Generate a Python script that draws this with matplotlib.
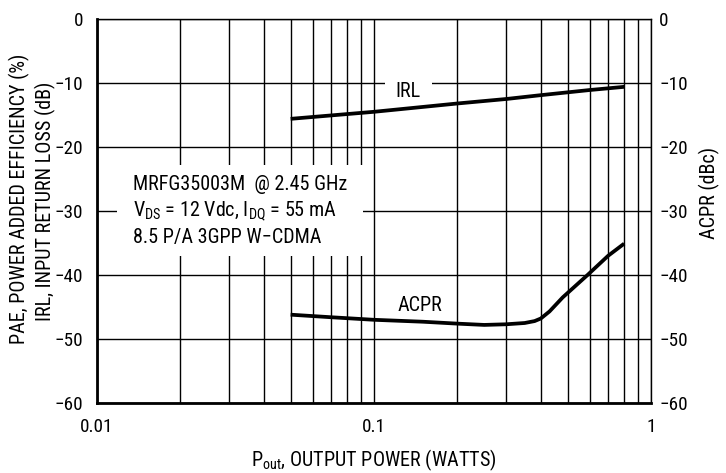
import matplotlib
matplotlib.use("Agg")
import matplotlib.pyplot as plt
from matplotlib import font_manager
from matplotlib.patches import Rectangle

# ---- data ----
irl_pout = [0.05, 0.1, 0.2, 0.3, 0.4, 0.6, 0.8]
irl_db = [-15.6, -14.5, -13.2, -12.5, -11.9, -11.1, -10.6]

acpr_pout = [0.05, 0.07, 0.1, 0.15, 0.2, 0.25, 0.3, 0.35, 0.38, 0.4, 0.43, 0.48, 0.59, 0.7, 0.8]
acpr_dbc = [-46.2, -46.6, -47.0, -47.3, -47.6, -47.8, -47.7, -47.5, -47.2, -46.8, -45.7, -43.5, -40.0, -37.0, -35.1]

y_ticks = [0, -10, -20, -30, -40, -50, -60]
x_ticks = [0.01, 0.1, 1]
x_ticklabels = ["0.01", "0.1", "1"]

names = {f.name for f in font_manager.fontManager.ttflist}
prefs = ["Liberation Sans Narrow", "Arial Narrow", "Nimbus Sans Narrow",
         "Roboto Condensed", "Archivo Narrow", "PT Sans Narrow",
         "IBM Plex Sans Condensed", "Liberation Sans"]
fam = next(p for p in prefs if p in names)
plt.rcParams["font.family"] = [fam, "DejaVu Sans"]
plt.rcParams["mathtext.fontset"] = "custom"
plt.rcParams["mathtext.rm"] = fam
plt.rcParams["mathtext.it"] = fam
plt.rcParams["mathtext.default"] = "regular"

FS = 14.5
TFS = 13.8

fig = plt.figure(figsize=(7.26, 4.73), dpi=100)
W, H = 726, 473
L, R, T, B = 97, 651, 19, 403
ax = fig.add_axes([L / W, 1 - B / H, (R - L) / W, (B - T) / H])

ax.set_xscale("log")
ax.set_xlim(0.01, 1)
ax.set_ylim(-60, 0)
ax.set_axisbelow(True)

ax.set_xticks(x_ticks)
ax.set_xticklabels(x_ticklabels)
ax.set_xticks([m * d for d in (0.01, 0.1) for m in range(2, 10)], minor=True)
ax.xaxis.set_minor_formatter(matplotlib.ticker.NullFormatter())
ax.set_yticks(y_ticks)
ax.set_yticklabels(["0" if v == 0 else "\u2212%d" % -v for v in y_ticks])
ax.tick_params(which="both", length=0, labelsize=TFS)
ax.tick_params(axis="y", pad=10)
ax.tick_params(axis="x", pad=11)

ax.grid(True, which="major", axis="both", color="black", linewidth=1.0)
ax.grid(True, which="minor", axis="x", color="black", linewidth=1.0)

for s in ("left", "bottom"):
    ax.spines[s].set_linewidth(2.0)
for s in ("top", "right"):
    ax.spines[s].set_linewidth(1.0)

# white mask behind annotation box and IRL label
ax.add_patch(Rectangle((0.01178, -37.0), 0.0913 - 0.01178, 14.2,
                       facecolor="white", edgecolor="none", zorder=1))
ax.add_patch(Rectangle((0.1096, -11.0), 0.1615 - 0.1096, 2.0,
                       facecolor="white", edgecolor="none", zorder=1))

ax.plot(irl_pout, irl_db, color="black", linewidth=2.7, zorder=3,
        solid_capstyle="butt")
ax.plot(acpr_pout, acpr_dbc, color="black", linewidth=2.7, zorder=3,
        solid_capstyle="butt", solid_joinstyle="round")

ax.text(0.133, -11.4, "IRL", fontsize=FS, ha="center", va="center", zorder=4)
ax.text(0.146, -44.7, "ACPR", fontsize=FS, ha="center", va="center", zorder=4)

ax.text(0.0135, -25.9, "MRFG35003M  @ 2.45 GHz", fontsize=FS, ha="left", va="center", zorder=4)
ax.text(0.0135, -30.0, "V$_{DS}$ = 12 Vdc, I$_{DQ}$ = 55 mA", fontsize=FS, ha="left", va="center", zorder=4)
ax.text(0.0135, -34.2, "8.5 P/A 3GPP W\u2212CDMA", fontsize=FS, ha="left", va="center", zorder=4)

ax2 = ax.twinx()
ax2.set_ylim(-60, 0)
ax2.set_yticks(y_ticks)
ax2.set_yticklabels(["0" if v == 0 else "\u2212%d" % -v for v in y_ticks])
ax2.tick_params(length=0, labelsize=TFS, pad=6)
for s in ax2.spines.values():
    s.set_visible(False)

fig.text(709 / W, 1 - 193 / H, "ACPR (dBc)", rotation=90, fontsize=FS,
         ha="center", va="center")
fig.text(19 / W, 1 - 199 / H, "PAE, POWER ADDED EFFICIENCY (%)", rotation=90,
         fontsize=FS, ha="center", va="center")
fig.text(45 / W, 1 - 201 / H, "IRL, INPUT RETURN LOSS (dB)", rotation=90,
         fontsize=FS, ha="center", va="center")
fig.text(374 / W, 1 - 460 / H, "P$_{out}$, OUTPUT POWER (WATTS)", fontsize=FS,
         ha="center", va="center")

fig.savefig("out.png", dpi=100)
